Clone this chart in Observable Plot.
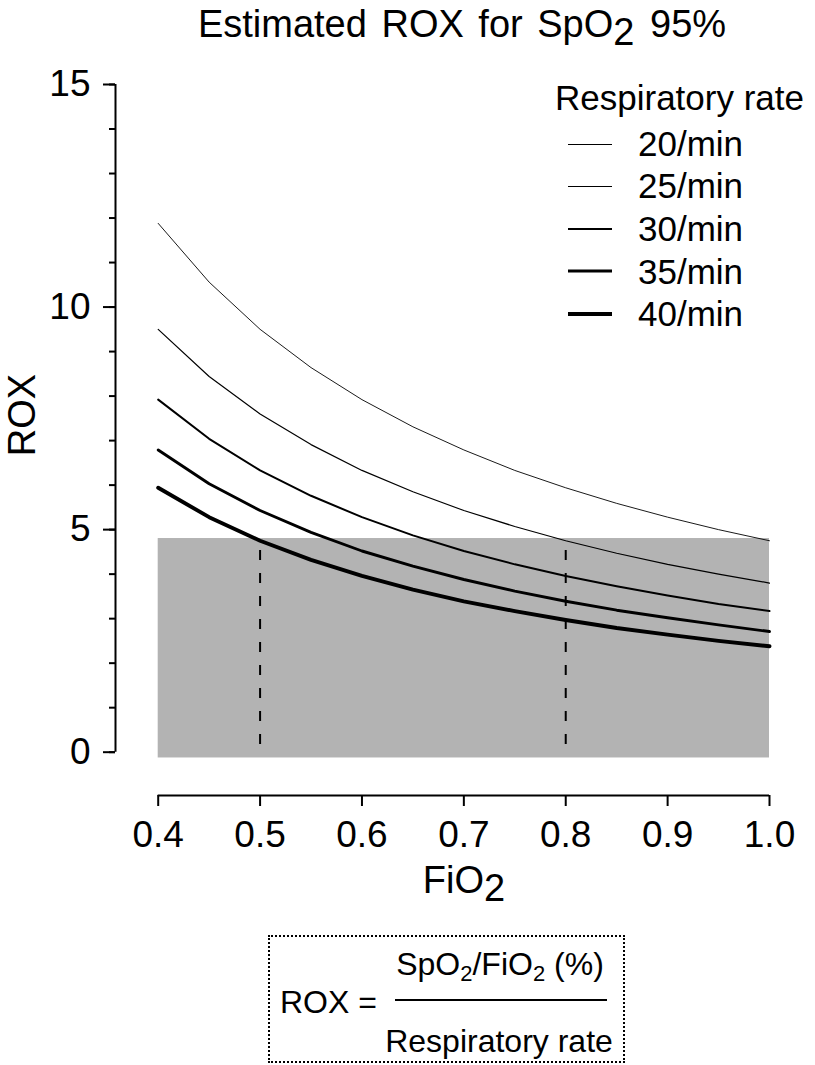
<!DOCTYPE html>
<html>
<head>
<meta charset="utf-8">
<script src="https://cdn.jsdelivr.net/npm/d3@7"></script>
<script src="https://cdn.jsdelivr.net/npm/@observablehq/plot@0.6"></script>
<style>
  body { margin: 0; background: #fff; }
  #wrap { position: relative; width: 815px; height: 1065px; font-family: "Liberation Sans", Arial, Helvetica, sans-serif; color: #000; overflow: hidden; }
  .abs { position: absolute; white-space: nowrap; }
</style>
</head>
<body>
<div id="wrap"></div>
<script>
// ---------- data ----------
const fio2 = [0.40, 0.45, 0.50, 0.55, 0.60, 0.65, 0.70, 0.75, 0.80, 0.85, 0.90, 0.95, 1.00];
const rates = [20, 25, 30, 35, 40];
const rox20 = [11.88, 10.56, 9.50, 8.64, 7.92, 7.31, 6.79, 6.33, 5.94, 5.59, 5.28, 5.00, 4.75];
const rox25 = [9.50, 8.44, 7.60, 6.91, 6.33, 5.85, 5.43, 5.07, 4.75, 4.47, 4.22, 4.00, 3.80];
const rox30 = [7.92, 7.04, 6.33, 5.76, 5.28, 4.87, 4.52, 4.22, 3.96, 3.73, 3.52, 3.33, 3.17];
const rox35 = [6.79, 6.03, 5.43, 4.94, 4.52, 4.18, 3.88, 3.62, 3.39, 3.19, 3.02, 2.86, 2.71];
const rox40 = [5.94, 5.28, 4.75, 4.32, 3.96, 3.65, 3.39, 3.17, 2.97, 2.79, 2.64, 2.50, 2.38];
const shadeFiO2 = [0.40, 1.00];
const shadeRox = [-0.13, 4.80];
const markerFiO2 = [0.5, 0.8];
const markerRox = [0.17, 4.80];
const xTicks = [0.4, 0.5, 0.6, 0.7, 0.8, 0.9, 1.0];
const yMajor = [0, 5, 10, 15];
const yMinor = [0, 1, 2, 3, 4, 5, 6, 7, 8, 9, 10, 11, 12, 13, 14, 15];
const legendLabels = ["20/min", "25/min", "30/min", "35/min", "40/min"];

// ---------- styles ----------
const lineWidth = {20: 0.9, 25: 1.2, 30: 2, 35: 2.9, 40: 3.9};
const FONT = '"Liberation Sans", Arial, Helvetica, sans-serif';

const seriesByRate = {20: rox20, 25: rox25, 30: rox30, 35: rox35, 40: rox40};
const rows = rates.flatMap(r => fio2.map((f, i) => ({fio2: f, rox: seriesByRate[r][i], rate: r})));

const wrap = document.getElementById("wrap");
const TOP = 60;
const NS = "http://www.w3.org/2000/svg";

function textAt(html, x, baseline, fs, anchor = "start") {
  const d = document.createElement("div");
  d.className = "abs";
  d.style.fontSize = fs + "px";
  d.style.lineHeight = fs + "px";
  d.style.top = (baseline - 0.8465 * fs) + "px";
  d.style.left = x + "px";
  if (anchor === "middle") d.style.transform = "translateX(-50%)";
  d.innerHTML = html;
  wrap.appendChild(d);
  return d;
}

// ---------- title (above the SVG) ----------
textAt('<span style="word-spacing:4px">Estimated ROX for SpO</span><span style="position:relative;top:8px;margin-right:5px">2</span> 95%', 462, 37.3, 38, "middle");

// ---------- chart ----------
const xMin = 0.4 - (157.7 - 115) / ((769 - 157.7) / 0.6);
const yMin = -0.973;

const plot = Plot.plot({
  width: 815,
  height: 860,
  marginLeft: 115,
  marginRight: 46,
  marginTop: 24,
  marginBottom: 125,
  style: {fontFamily: FONT, background: "transparent", color: "#000"},
  x: {domain: [xMin, 1.0]},
  y: {domain: [yMin, 15]},
  marks: [
    Plot.rect([0], {x1: () => shadeFiO2[0], x2: () => shadeFiO2[1], y1: () => shadeRox[0], y2: () => shadeRox[1], fill: "#b3b3b3"}),
    Plot.ruleX(markerFiO2, {x: d => d, y1: () => markerRox[0], y2: () => markerRox[1], stroke: "#000", strokeWidth: 2, strokeDasharray: "10,13"}),
    ...rates.map(r => Plot.line(rows.filter(d => d.rate === r), {x: "fio2", y: "rox", stroke: "#000", strokeWidth: lineWidth[r], strokeLinejoin: "round"})),
    // axis lines
    Plot.ruleY([yMin], {x1: d3.min(xTicks), x2: d3.max(xTicks), stroke: "#000", strokeWidth: 2}),
    Plot.ruleX([xMin], {y1: d3.min(yMajor), y2: d3.max(yMajor), stroke: "#000", strokeWidth: 2}),
    Plot.axisX(xTicks, {tickSize: 11, tickPadding: 14, fontSize: 37, strokeWidth: 2, tickFormat: d3.format(".1f"), label: null}),
    Plot.axisY(yMinor, {tickSize: 6, strokeWidth: 2, tickFormat: () => "", label: null}),
    Plot.axisY(yMajor, {tickSize: 12, tickPadding: 13, fontSize: 37, strokeWidth: 2, label: null})
  ]
});
const holder = document.createElement("div");
holder.className = "abs";
holder.style.top = TOP + "px";
holder.style.left = "0px";
holder.appendChild(plot);
wrap.appendChild(holder);

// axis labels inside the SVG (with subscript)
const svg = d3.select(plot.tagName.toLowerCase() === "svg" ? plot : plot.querySelector("svg"));
const xl = svg.append("text")
  .attr("x", 464).attr("y", 892.7 - TOP)
  .attr("text-anchor", "middle")
  .attr("font-size", 38).attr("font-family", FONT).attr("fill", "#000");
xl.append("tspan").text("FiO");
xl.append("tspan").attr("dy", 8).text("2");

svg.append("text")
  .attr("transform", `translate(35,${415 - TOP}) rotate(-90)`)
  .attr("text-anchor", "middle")
  .attr("font-size", 38).attr("font-family", FONT).attr("fill", "#000")
  .text("ROX");

// ---------- legend (overlay) ----------
textAt("Respiratory rate", 555, 110, 35);
rates.forEach((r, i) => {
  const base = 155.5 + 42.6 * i;
  const w = lineWidth[r];
  const s = document.createElementNS(NS, "svg");
  s.setAttribute("width", 44);
  s.setAttribute("height", 10);
  s.style.position = "absolute";
  s.style.left = "568px";
  s.style.top = Math.round(base - 17) + "px";
  const cy = w < 1.5 ? 5.5 : 5;
  const l = document.createElementNS(NS, "line");
  l.setAttribute("x1", 0); l.setAttribute("x2", 44);
  l.setAttribute("y1", cy); l.setAttribute("y2", cy);
  l.setAttribute("stroke", "#000");
  l.setAttribute("stroke-width", w < 1.5 ? 1 : w);
  s.appendChild(l);
  wrap.appendChild(s);
  textAt(legendLabels[i], 638, base, 35);
});

// ---------- formula box (below) ----------
const box = document.createElement("div");
box.className = "abs";
box.style.left = "268px";
box.style.top = "935px";
box.style.width = "353px";
box.style.height = "124px";
box.style.border = "2px dotted #000";
wrap.appendChild(box);
textAt("ROX =", 280, 1013, 32);
textAt('SpO<span style="font-size:22px;position:relative;top:6px">2</span>/FiO<span style="font-size:22px;position:relative;top:6px">2</span> (%)', 500, 975, 32, "middle");
const frac = document.createElement("div");
frac.className = "abs";
frac.style.left = "395px";
frac.style.width = "212px";
frac.style.top = "999px";
frac.style.height = "0px";
frac.style.borderTop = "2px solid #000";
wrap.appendChild(frac);
textAt("Respiratory rate", 499, 1052, 32, "middle");
</script>
</body>
</html>
